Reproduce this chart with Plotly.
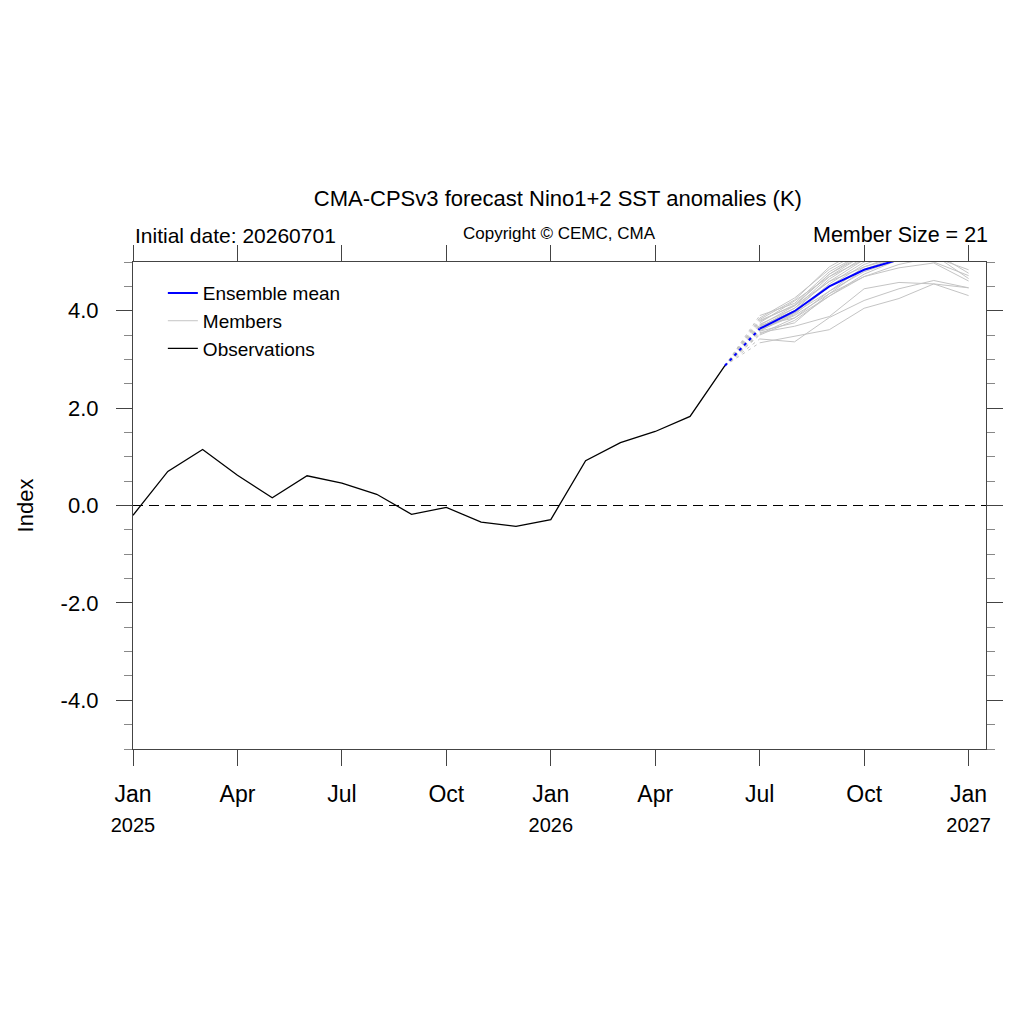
import plotly.graph_objects as go

# observed Nino1+2 anomalies, Jan 2025 .. Jun 2026 (monthly)
obs_values = [-0.20, 0.70, 1.15, 0.62, 0.16, 0.61, 0.46, 0.23, -0.18, -0.04,
              -0.34, -0.43, -0.29, 0.92, 1.29, 1.52, 1.83, 2.87]

# forecast months Jul 2026 .. Jan 2027
fcst_start = 18
ens_mean = [3.63, 3.99, 4.50, 4.84, 5.05, 5.25, 5.15]

members = [
    [3.34, 3.48, 3.61, 4.05, 4.25, 4.55, 4.31],
    [3.42, 3.36, 3.86, 4.21, 4.45, 4.62, 4.47],
    [3.55, 3.68, 3.88, 4.45, 4.58, 4.55, 4.47],
    [3.70, 3.85, 4.30, 4.70, 4.95, 5.10, 4.84],
    [3.65, 3.95, 4.40, 4.80, 5.05, 5.20, 4.77],
    [3.80, 4.10, 4.60, 4.90, 5.10, 5.00, 4.72],
    [3.75, 4.20, 4.70, 5.05, 5.20, 5.15, 4.66],
    [3.85, 4.26, 4.85, 5.25, 5.50, 5.60, 5.45],
    [3.60, 3.90, 4.35, 4.70, 4.88, 4.98, 4.61],
    [3.50, 3.80, 4.30, 4.75, 5.05, 5.30, 5.25],
    [3.90, 4.15, 4.80, 5.20, 5.45, 5.70, 5.60],
    [3.72, 4.05, 4.60, 5.05, 5.30, 5.50, 5.40],
    [3.58, 3.95, 4.55, 5.00, 5.25, 5.45, 5.35],
    [3.68, 4.00, 4.65, 5.10, 5.35, 5.55, 5.50],
    [3.62, 3.92, 4.50, 4.95, 5.20, 5.40, 5.30],
    [3.78, 4.12, 4.75, 5.20, 5.40, 5.60, 5.55],
    [3.66, 4.05, 4.70, 5.15, 5.40, 5.65, 5.50],
    [3.52, 3.85, 4.40, 4.90, 5.15, 5.35, 5.20],
    [3.82, 4.22, 4.90, 5.30, 5.55, 5.75, 5.65],
    [3.58, 3.75, 4.35, 4.85, 5.10, 5.35, 5.25],
    [3.70, 4.10, 4.75, 5.15, 5.40, 5.60, 5.45],
]

tick_months = [0, 3, 6, 9, 12, 15, 18, 21, 24]
tick_names = ["Jan", "Apr", "Jul", "Oct", "Jan", "Apr", "Jul", "Oct", "Jan"]
tick_years = {0: "2025", 12: "2026", 24: "2027"}
ytick_vals = [-4, -2, 0, 2, 4]
ytick_text = ["-4.0", "-2.0", "0.0", "2.0", "4.0"]

FONT = "Liberation Sans, Arial, Helvetica, sans-serif"
GRAY = "#c4c4c4"

obs_x = list(range(len(obs_values)))
fc_x = list(range(fcst_start, fcst_start + len(ens_mean)))

fig = go.Figure()

# members: dashed link from last obs, then solid
for i, m in enumerate(members):
    fig.add_trace(go.Scatter(
        x=[obs_x[-1], fc_x[0]], y=[obs_values[-1], m[0]],
        mode="lines", line=dict(color=GRAY, width=1, dash="3px,4px"),
        showlegend=False, hoverinfo="skip"))
for i, m in enumerate(members):
    fig.add_trace(go.Scatter(
        x=fc_x, y=m, mode="lines", line=dict(color=GRAY, width=1),
        name="Members", legendgroup="mem", showlegend=(i == 0), legendrank=2))

fig.add_trace(go.Scatter(
    x=[obs_x[-1], fc_x[0]], y=[obs_values[-1], ens_mean[0]],
    mode="lines", line=dict(color="#0000ff", width=2, dash="3px,4px"),
    showlegend=False, hoverinfo="skip"))
fig.add_trace(go.Scatter(
    x=fc_x, y=ens_mean, mode="lines", line=dict(color="#0000ff", width=2),
    name="Ensemble mean", legendrank=1))

fig.add_trace(go.Scatter(
    x=obs_x, y=obs_values, mode="lines", line=dict(color="black", width=1.3),
    name="Observations", legendrank=3))

# zero line
fig.add_hline(y=0, line=dict(color="black", width=1.2, dash="10px,6px"))

ticktext = []
for v, n in zip(tick_months, tick_names):
    if v in tick_years:
        ticktext.append(f"{n}<br><span style='font-size:20px'>{tick_years[v]}</span>")
    else:
        ticktext.append(n)

fig.update_layout(
    width=1024, height=1024,
    paper_bgcolor="white", plot_bgcolor="white",
    margin=dict(l=125, r=46, t=254, b=283),
    font=dict(family=FONT, color="black"),
    title=dict(text="CMA-CPSv3 forecast Nino1+2 SST anomalies (K)",
               x=0.537, xanchor="center", y=1 - 190 / 1024, yanchor="middle",
               yref="container", font=dict(size=22)),
    legend=dict(x=0.035, y=0.975, xanchor="left", yanchor="top",
                bgcolor="rgba(0,0,0,0)", font=dict(size=19),
                tracegroupgap=0),
    showlegend=True,
)

fig.update_xaxes(
    range=[0, 24.5], tickmode="array", tickvals=tick_months, ticktext=ticktext,
    showline=True, linecolor="#444", linewidth=1.2, mirror="allticks",
    ticks="outside", ticklen=16, tickcolor="#444", tickwidth=1.2,
    tickfont=dict(size=23), showgrid=False, zeroline=False,
    ticklabelstandoff=8,
)
fig.update_yaxes(
    range=[-5, 5], tickmode="array", tickvals=ytick_vals, ticktext=ytick_text,
    title=dict(text="Index", font=dict(size=22), standoff=20),
    showline=True, linecolor="#444", linewidth=1.2, mirror="allticks",
    ticks="outside", ticklen=16, tickcolor="#444", tickwidth=1.2,
    minor=dict(dtick=0.5, ticks="outside", ticklen=8, tickcolor="#888", tickwidth=1),
    tickfont=dict(size=22), showgrid=False, zeroline=False,
    ticklabelstandoff=13,
)

fig.add_annotation(text="Initial date: 20260701", xref="paper", yref="paper",
                   x=0, y=1, xanchor="left", yanchor="bottom", yshift=13,
                   showarrow=False, font=dict(size=21))
fig.add_annotation(text="Copyright © CEMC, CMA", xref="paper", yref="paper",
                   x=0.5, y=1, xanchor="center", yanchor="bottom", yshift=17,
                   showarrow=False, font=dict(size=17))
fig.add_annotation(text="Member Size = 21", xref="paper", yref="paper",
                   x=1.005, y=1, xanchor="right", yanchor="bottom", yshift=13,
                   showarrow=False, font=dict(size=21.5))

fig.write_html("out.html")
